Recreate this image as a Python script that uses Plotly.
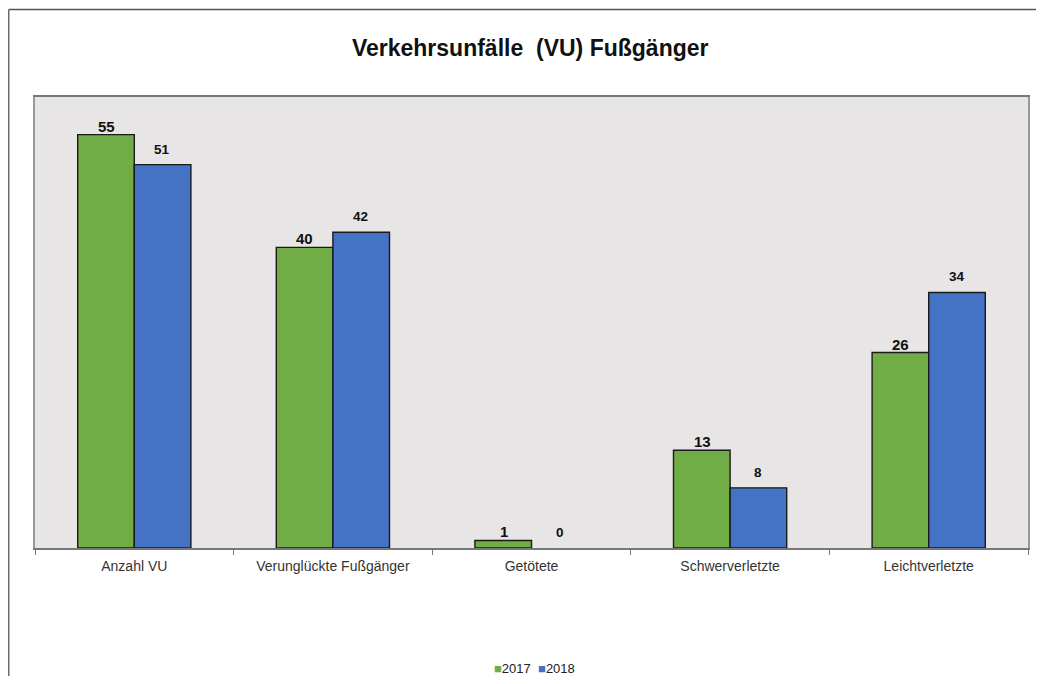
import plotly.graph_objects as go

categories = ["Anzahl VU", "Verunglückte Fußgänger", "Getötete", "Schwerverletzte", "Leichtverletzte"]
values_2017 = [55, 40, 1, 13, 26]
values_2018 = [51, 42, 0, 8, 34]
series_names = ["2017", "2018"]

colors = {"2017": "#70AD47", "2018": "#4472C4"}
font_family = "Liberation Sans, Arial, sans-serif"


def outline_widths(values):
    # a zero bar shows no outline in the original
    return [1.4 if v > 0 else 0 for v in values]


fig = go.Figure(data=[
    go.Bar(name=series_names[0], x=categories, y=values_2017, marker_color=colors["2017"],
           marker_line_color="#1a1a1a", marker_line_width=outline_widths(values_2017), showlegend=False),
    go.Bar(name=series_names[1], x=categories, y=values_2018, marker_color=colors["2018"],
           marker_line_color="#1a1a1a", marker_line_width=outline_widths(values_2018), showlegend=False),
])

# value labels above bars (2018 a bit higher and smaller, like the original)
annotations = []
for cat, v in zip(categories, values_2017):
    annotations.append(dict(x=cat, y=v, text=str(v), showarrow=False, xshift=-28, yshift=-2,
                            yanchor="bottom", font=dict(size=15, color="#111", family=font_family, weight="bold")))
for cat, v in zip(categories, values_2018):
    annotations.append(dict(x=cat, y=v, text=str(v), showarrow=False, xshift=28, yshift=6,
                            yanchor="bottom", font=dict(size=13.5, color="#111", family=font_family, weight="bold")))

# compact legend like the original: small squares right before the year
legend_text = "  ".join(
    f"<span style='color:{colors[n]}'>■</span>{n}" for n in series_names
)
annotations.append(dict(xref="paper", yref="paper", x=0.5035, y=-0.268, text=legend_text,
                        showarrow=False, xanchor="center", yanchor="middle",
                        font=dict(size=13, color="#222", family=font_family)))

fig.update_layout(
    width=1028,
    height=668,
    title=dict(text="<b>Verkehrsunfälle\u00a0 (VU) Fußgänger</b>", x=0.508, xanchor="center",
               y=0.94, yanchor="middle", font=dict(size=23, color="#111", family=font_family)),
    barmode="group",
    bargap=0.43,
    bargroupgap=0,
    paper_bgcolor="white",
    plot_bgcolor="#E7E5E5",
    margin=dict(l=27, r=6, t=89, b=128),
    font=dict(family=font_family, size=14, color="#222"),
    showlegend=False,
    xaxis=dict(showline=True, linecolor="#777", linewidth=1.5, mirror=True,
               ticks="outside", tickson="boundaries", ticklen=5, tickcolor="#777",
               ticklabelstandoff=4, tickfont=dict(size=14, color="#333"), showgrid=False),
    yaxis=dict(range=[0, 60], showticklabels=False, showgrid=False, zeroline=False,
               showline=True, linecolor="#999", linewidth=1.5, mirror=True, ticks=""),
    annotations=annotations,
    shapes=[
        # outer chart frame (top and left edges visible in the original)
        dict(type="line", xref="paper", yref="paper", x0=-0.0264, x1=1.05, y0=1.194, y1=1.194,
             line=dict(color="#555", width=1.3)),
        dict(type="line", xref="paper", yref="paper", x0=-0.0264, x1=-0.0264, y0=1.194, y1=-0.4,
             line=dict(color="#555", width=1.3)),
    ],
)

fig.write_html("out.html")
